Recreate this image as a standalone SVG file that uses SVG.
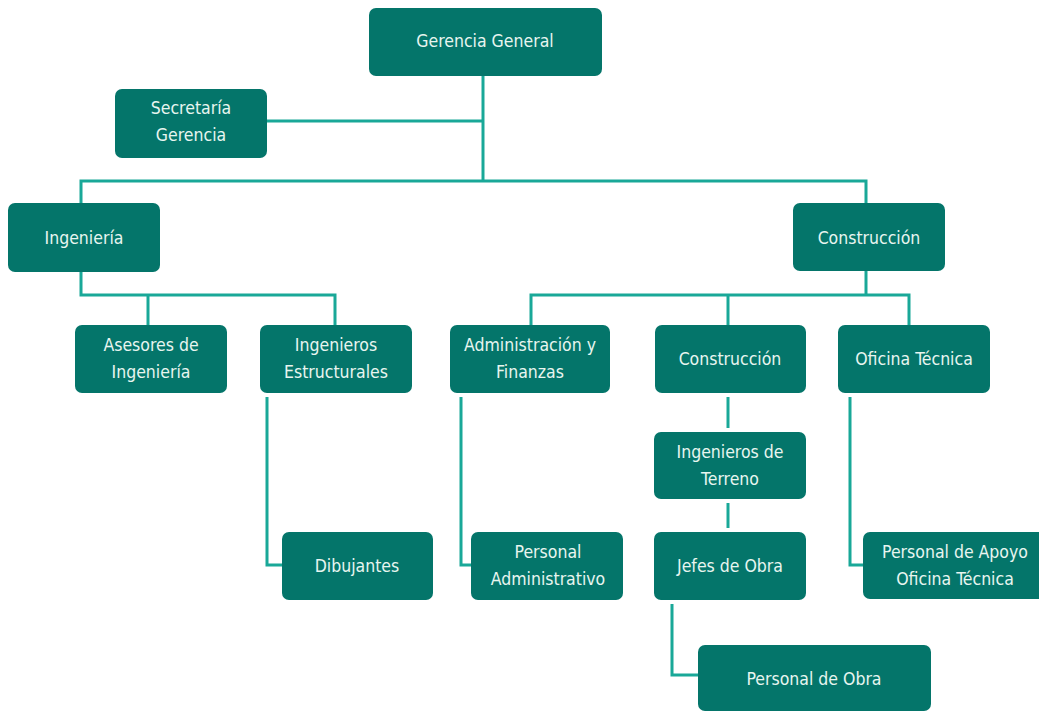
<svg xmlns="http://www.w3.org/2000/svg" width="1039" height="711" viewBox="0 0 1039 711">
  <style>
    .box { fill: #04756a; }
    .lbl { fill: #e8f5f0; font-family: "DejaVu Sans Condensed", "DejaVu Sans", "Liberation Sans Narrow", sans-serif; font-stretch: condensed; font-size: 17.5px; font-weight: 500; text-anchor: middle; dominant-baseline: central; }
    .wire { fill: none; stroke: #19a898; stroke-width: 3; }
  </style>
  <rect width="1039" height="711" fill="#ffffff"/>

  <g id="connectors">
    <path class="wire" d="M483 76 V181"/>
    <path class="wire" d="M267 121 H483"/>
    <path class="wire" d="M81 203 V181 H866 V203"/>
    <path class="wire" d="M81 272 V295 H335 V325"/>
    <path class="wire" d="M148 295 V325"/>
    <path class="wire" d="M866 271 V295"/>
    <path class="wire" d="M531 325 V295 H909 V325"/>
    <path class="wire" d="M728 295 V325"/>
    <path class="wire" d="M267 397 V565 H282"/>
    <path class="wire" d="M461 397 V565 H471"/>
    <path class="wire" d="M850 397 V565 H863"/>
    <path class="wire" d="M728 397 V428"/>
    <path class="wire" d="M728 503 V528"/>
    <path class="wire" d="M672 604 V675 H698"/>
  </g>

  <g id="gerencia-general">
    <rect class="box" x="369" y="8" width="233" height="68" rx="7"/>
    <text class="lbl" x="485" y="41">Gerencia General</text>
  </g>
  <g id="secretaria-gerencia">
    <rect class="box" x="115" y="89" width="152" height="69" rx="7"/>
    <text class="lbl" x="191" y="108">Secretaría</text>
    <text class="lbl" x="191" y="135">Gerencia</text>
  </g>
  <g id="ingenieria">
    <rect class="box" x="8" y="203" width="152" height="69" rx="7"/>
    <text class="lbl" x="84" y="238">Ingeniería</text>
  </g>
  <g id="construccion-area">
    <rect class="box" x="793" y="203" width="152" height="68" rx="7"/>
    <text class="lbl" x="869" y="238">Construcción</text>
  </g>
  <g id="asesores">
    <rect class="box" x="75" y="325" width="152" height="68" rx="7"/>
    <text class="lbl" x="151" y="345">Asesores de</text>
    <text class="lbl" x="151" y="372">Ingeniería</text>
  </g>
  <g id="ingenieros-estructurales">
    <rect class="box" x="260" y="325" width="152" height="68" rx="7"/>
    <text class="lbl" x="336" y="345">Ingenieros</text>
    <text class="lbl" x="336" y="372">Estructurales</text>
  </g>
  <g id="administracion-finanzas">
    <rect class="box" x="450" y="325" width="160" height="68" rx="7"/>
    <text class="lbl" x="530" y="345">Administración y</text>
    <text class="lbl" x="530" y="372">Finanzas</text>
  </g>
  <g id="construccion">
    <rect class="box" x="655" y="325" width="151" height="68" rx="7"/>
    <text class="lbl" x="730" y="359">Construcción</text>
  </g>
  <g id="oficina-tecnica">
    <rect class="box" x="838" y="325" width="152" height="68" rx="7"/>
    <text class="lbl" x="914" y="359">Oficina Técnica</text>
  </g>
  <g id="ingenieros-terreno">
    <rect class="box" x="654" y="432" width="152" height="67" rx="7"/>
    <text class="lbl" x="730" y="452">Ingenieros de</text>
    <text class="lbl" x="730" y="479">Terreno</text>
  </g>
  <g id="dibujantes">
    <rect class="box" x="282" y="532" width="151" height="68" rx="7"/>
    <text class="lbl" x="357" y="566">Dibujantes</text>
  </g>
  <g id="personal-administrativo">
    <rect class="box" x="471" y="532" width="152" height="68" rx="7"/>
    <text class="lbl" x="548" y="552">Personal</text>
    <text class="lbl" x="548" y="579">Administrativo</text>
  </g>
  <g id="jefes-obra">
    <rect class="box" x="654" y="532" width="152" height="68" rx="7"/>
    <text class="lbl" x="730" y="566">Jefes de Obra</text>
  </g>
  <g id="personal-apoyo">
    <rect class="box" x="863" y="532" width="190" height="67" rx="7"/>
    <text class="lbl" x="955" y="552">Personal de Apoyo</text>
    <text class="lbl" x="955" y="579">Oficina Técnica</text>
  </g>
  <g id="personal-obra">
    <rect class="box" x="698" y="645" width="233" height="66" rx="7"/>
    <text class="lbl" x="814" y="679">Personal de Obra</text>
  </g>
</svg>
